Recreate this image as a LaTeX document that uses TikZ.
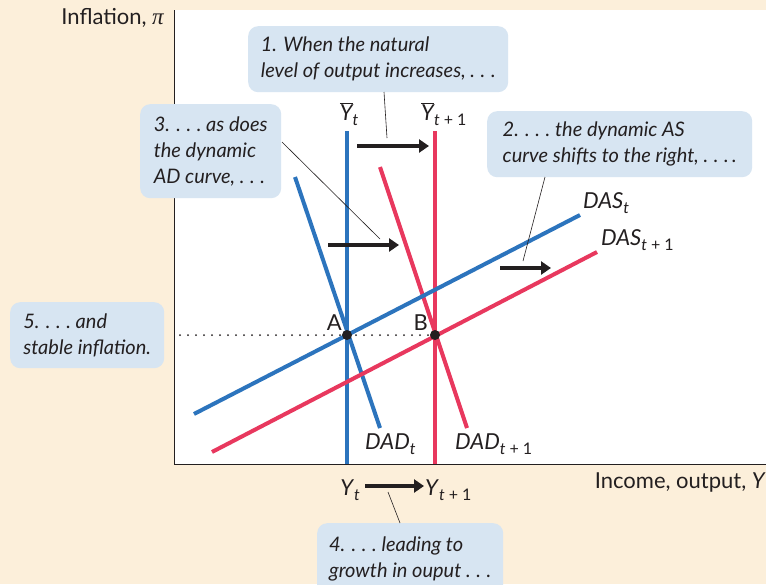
\documentclass[tikz,border=0pt]{standalone}
\usepackage{fontspec}
\setmainfont{Lato}
\newfontfamily\greekit[Scale=1.05]{Liberation Serif}
\usetikzlibrary{arrows.meta,positioning,calc}
\definecolor{cream}{HTML}{FCEFDA}
\definecolor{boxblue}{HTML}{D7E5F2}
\definecolor{curveblue}{HTML}{2C74BD}
\definecolor{curvered}{HTML}{E8385E}
\definecolor{ink}{HTML}{231F20}
\newcommand{\sbs}[1]{\raisebox{-0.5ex}{\fontsize{16}{16}\selectfont #1}}
\newcommand{\barY}{$\overline{\mbox{\itshape Y}}$}
\newcommand{\spdots}{\mbox{.\kern0.28em.\kern0.28em.}}

\begin{document}
\begin{tikzpicture}[x=1pt,y=-1pt,
    callout/.style={fill=boxblue, rounded corners=10pt, align=left, anchor=north west,
      text=ink, inner xsep=9pt, inner ysep=5pt,
      font=\itshape\fontsize{20}{26}\selectfont},
    shiftarrow/.style={ink, line width=4pt, -{Triangle[length=10pt,width=13pt]}},
    curve/.style={line width=4pt},
    lbl/.style={text=ink, font=\fontsize{22}{24}\selectfont, inner sep=1pt},
    pointer/.style={ink, line width=0.6pt}]
    % Background and plot area
    \clip (0,0) rectangle (766,584);
    \fill[cream] (0,0) rectangle (766,584);
    \fill[white] (174,10) rectangle (766,464);
    \draw[ink, line width=0.8pt] (174,10) -- (174,464) -- (766,464);

    % Axis labels
    \node[lbl, anchor=north east] (ylab) at (165,7) {Inflation, {\greekit\itshape π}};
    \node[lbl, anchor=north east] (xlab) at (767,472) {Income, output, \textit{Y}};

    % Dotted line at the inflation level
    \coordinate (dotL) at (180,335);
    \coordinate (A) at (347,335);
    \coordinate (B) at (435,335);
    \draw[ink, line width=2pt, line cap=round, dash pattern=on 0pt off 8pt] (dotL) -- (B);

    % Natural level of output
    \draw[curve, curveblue] (347,131) -- (347,464);
    \draw[curve, curvered] (435,131) -- (435,464);
    \node[lbl, anchor=south] (Ybt) at (349,127) {\barY\sbs{\textit{t}}};
    \node[lbl, anchor=south west] (Ybt1) at (420,127) {\barY\sbs{\textit{t} + 1}};

    % Dynamic AD curves
    \draw[curve, curveblue] (295,177) -- (380,428);
    \draw[curve, curvered] (380,167) -- (467,428);
    \node[lbl, anchor=west] (dadt) at (364,444) {\textit{DAD}\sbs{\textit{t}}};
    \node[lbl, anchor=west] (dadt1) at (454,444) {\textit{DAD}\sbs{\textit{t} + 1}};

    % Dynamic AS curves
    \draw[curve, curveblue] (194,414) -- (580,215);
    \draw[curve, curvered] (212,452) -- (597,252);
    \node[lbl, anchor=west] (dast) at (582,203) {\textit{DAS}\sbs{\textit{t}}};
    \node[lbl, anchor=west] (dast1) at (600,240) {\textit{DAS}\sbs{\textit{t} + 1}};

    % Equilibrium points
    \fill[ink] (A) circle (5pt);
    \fill[ink] (B) circle (5pt);
    \node[lbl, anchor=south east] (Alab) at ($(A)+(-4,-3)$) {A};
    \node[lbl, anchor=south east] (Blab) at ($(B)+(-6,-3)$) {B};

    % Shift arrows
    \draw[shiftarrow] (357,146) -- (429,146);
    \draw[shiftarrow] (328,245) -- (399,245);
    \draw[shiftarrow] (500,268) -- (551,268);

    % Output below the axis
    \node[lbl, anchor=east] (Yt) at (361,490) {\textit{Y}\sbs{\textit{t}}};
    \node[lbl, anchor=west] (Yt1) at (424,490) {\textit{Y}\sbs{\textit{t} + 1}};
    \draw[shiftarrow] (365,486) -- (424,486);

    % Callouts
    \node[callout, minimum width=260pt, minimum height=66pt]
      (c1) at (248,26) {1. When the natural\\level of output increases, \spdots};
    \node[callout, minimum width=265pt, minimum height=66pt]
      (c2) at (487,111) {2. \spdots\ the dynamic AS\\curve shifts to the right, \spdots\,.};
    \node[callout, minimum width=141pt, minimum height=94pt]
      (c3) at (140,104) {3. \spdots\ as does\\the dynamic\\AD curve, \spdots};
    \node[callout, minimum width=186pt, minimum height=72pt]
      (c4) at (317,523) {4. \spdots\ leading to\\growth in ouput \spdots};
    \node[callout, minimum width=154pt, minimum height=66pt]
      (c5) at (10,302) {5. \spdots\ and\\stable inflation.};

    % Pointers from the callouts
    \coordinate (p1) at (387,138);
    \coordinate (p2) at (523,261);
    \coordinate (p3) at (380,239);
    \coordinate (p4) at (388,492);
    \draw[pointer] (384,92) -- (p1);
    \draw[pointer] (545,177) -- (p2);
    \draw[pointer] (282,142) -- (p3);
    \draw[pointer] (p4) -- (400,523);
\end{tikzpicture}
\end{document}
